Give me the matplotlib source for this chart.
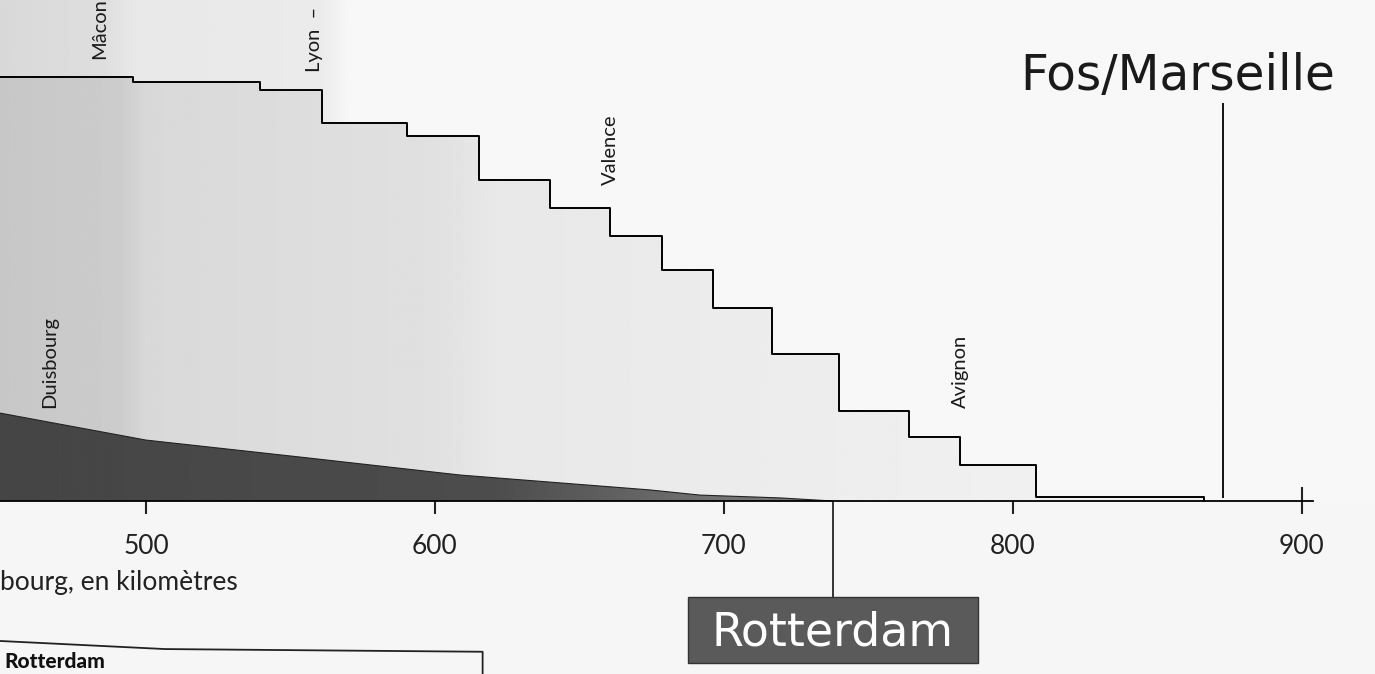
import matplotlib.pyplot as plt
import numpy as np
from matplotlib.patches import Rectangle

# Saône / Rhône water level: distance from Duisbourg (km) -> altitude (m)
rhone_km = [449.5, 495.5, 539.4, 560.9, 590.3, 615.2, 639.8, 660.6, 678.5,
            696.2, 716.6, 739.8, 764.0, 781.7, 808.0, 866.1]
rhone_alt = [165, 163, 160, 147, 142, 125, 114, 103, 90, 75, 57, 35, 25, 14, 1.5, 0]

# Rhine down to Rotterdam
rhin_km = [449.5, 500, 553.3, 608.7, 674.4, 691.7, 719.4, 737.7]
rhin_alt = [34.2, 23.7, 17.1, 10.1, 4.3, 2.3, 1.2, 0]

towns = ['Duisbourg', 'Mâcon', 'Lyon  –', 'Valence', 'Avignon']
towns_km = [466.6, 484, 558.5, 660.6, 781.7]

ticks = [500, 600, 700, 800, 900]
fos_km = 872.7
rotterdam_km = 737.7

plt.rcParams['font.family'] = ['Lato', 'DejaVu Sans']

xmin, xmax = 449.5, 925.3
ymin, ymax = -67.3, 194.9

fig = plt.figure(figsize=(13.75, 6.74), dpi=100)
ax = fig.add_axes([0, 0, 1, 1])
ax.set_xlim(xmin, xmax)
ax.set_ylim(ymin, ymax)

xs = np.linspace(xmin, xmax, 600)

# paper background, a bit darker on the left like the scan
bg = np.interp(xs, [xmin, 485, 495, 560, 570, xmax], [0.85, 0.87, 0.91, 0.92, 0.97, 0.97])
ax.imshow(np.tile(bg, (2, 1)), extent=[xmin, xmax, 0, ymax], cmap='gray', vmin=0, vmax=1,
          aspect='auto', origin='lower', zorder=0, interpolation='bilinear')
ax.axhspan(ymin, 0, color='#f6f6f6', zorder=0)

# light grey area under the Rhône profile
fill = ax.fill_between(rhone_km, rhone_alt, step='post', facecolor='none', edgecolor='none')
under = np.interp(xs, [xmin, 490, 500, 600, 620, 800, xmax], [0.78, 0.80, 0.85, 0.88, 0.91, 0.94, 0.94])
im = ax.imshow(np.tile(under, (2, 1)), extent=[xmin, xmax, 0, ymax], cmap='gray', vmin=0, vmax=1,
               aspect='auto', origin='lower', zorder=1, interpolation='bilinear')
im.set_clip_path(fill.get_paths()[0], ax.transData)
ax.step(rhone_km, rhone_alt, where='post', color='black', lw=1.4, zorder=3)

# dark area: Rhine profile
dark = ax.fill_between(rhin_km, rhin_alt, facecolor='none', edgecolor='none')
dshade = np.interp(xs, [xmin, 620, 700, xmax], [0.27, 0.30, 0.45, 0.5])
im2 = ax.imshow(np.tile(dshade, (2, 1)), extent=[xmin, xmax, 0, ymax], cmap='gray', vmin=0, vmax=1,
                aspect='auto', origin='lower', zorder=2, interpolation='bilinear')
im2.set_clip_path(dark.get_paths()[0], ax.transData)
ax.plot(rhin_km, rhin_alt, color='#222222', lw=0.8, zorder=3)

# axis
for side in ['top', 'right', 'left']:
    ax.spines[side].set_visible(False)
ax.spines['bottom'].set_position(('data', 0))
ax.spines['bottom'].set_bounds(xmin, 904)
ax.spines['bottom'].set_linewidth(1.3)
ax.spines['bottom'].set_zorder(4)
ax.set_yticks([])
ax.set_xticks(ticks)
ax.set_xticklabels([str(t) for t in ticks])
ax.tick_params(axis='x', direction='out', length=9, width=1.5, pad=15, labelsize=19, colors='#222222')
ax.vlines(900, 0, 5.5, color='#222222', lw=1.5, zorder=4)

ax.text(0.0, 0.125, 'bourg, en kilomètres', transform=ax.transAxes,
        ha='left', va='baseline', fontsize=19, color='#222222')

# town labels
label_y = [36, 172, 167, 123, 36]
for name, km, y in zip(towns, towns_km, label_y):
    ax.text(km, y, name, rotation=90, ha='center', va='bottom', fontsize=14.5, color='#1a1a1a', zorder=5)

# Fos / Marseille
ax.vlines(fos_km, 1, 155, color='black', lw=1.3, zorder=4)
ax.text(1178 / 1375, 1 - 90 / 674, 'Fos/Marseille', transform=ax.transAxes, ha='center', va='baseline',
        fontsize=35, color='#1a1a1a', family='DejaVu Sans')

# Rotterdam
ax.vlines(rotterdam_km, -37.4, 0, color='black', lw=1.1, zorder=4)
ax.add_patch(Rectangle((687.5, -63.0), 100.4, 25.6, facecolor='#5a5a5a', edgecolor='#333333', lw=1, zorder=4))
ax.text(rotterdam_km, -51.5, 'Rotterdam', ha='center', va='center', fontsize=33, color='white',
        family='DejaVu Sans', zorder=5)

# start of the next panel below
ax.plot([0, 0.12, 0.351, 0.351], [0.049, 0.037, 0.033, -0.01], transform=ax.transAxes,
        color='#222222', lw=1.3, clip_on=False)
ax.text(0.003, 0.004, 'Rotterdam', transform=ax.transAxes, ha='left', va='bottom',
        fontsize=15, fontweight='black', color='#111111')

fig.savefig('out.png', dpi=100)
